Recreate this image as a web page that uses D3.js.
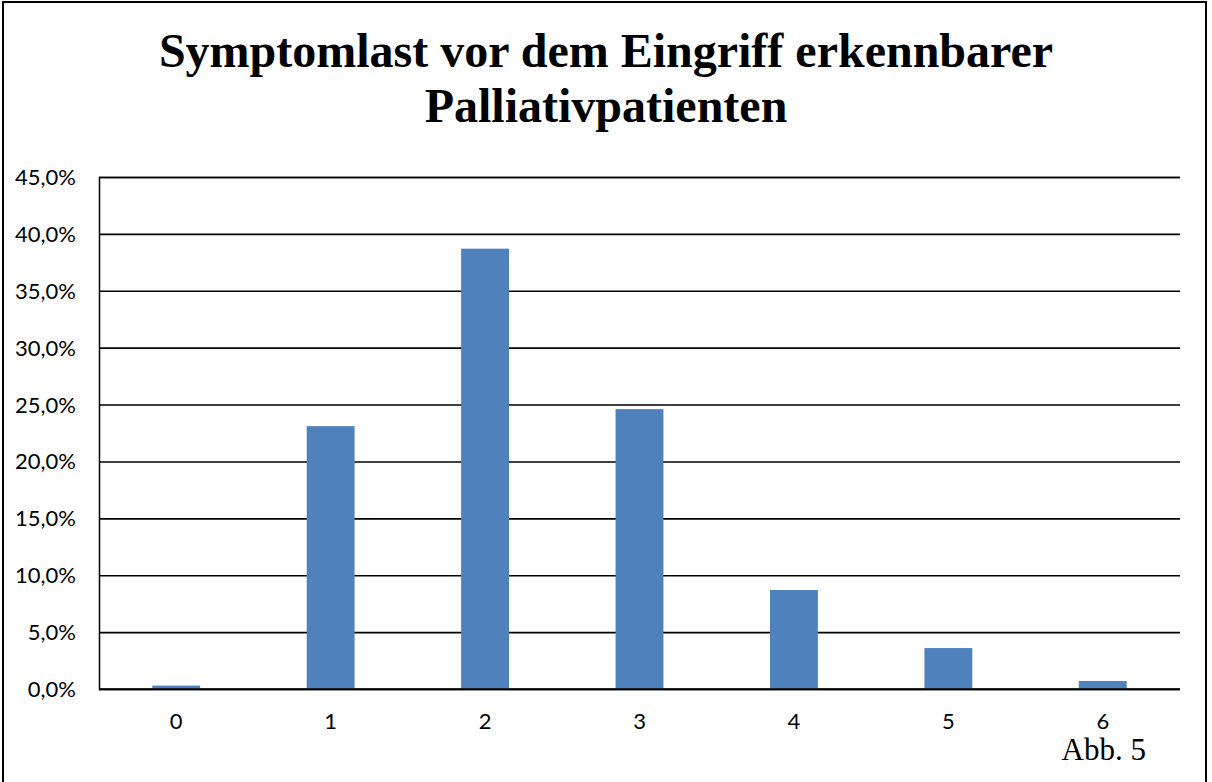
<!DOCTYPE html>
<html><head><meta charset="utf-8">
<script src="https://cdn.jsdelivr.net/npm/d3@7"></script>
<style>html,body{margin:0;padding:0;background:#fff;overflow:hidden}</style>
</head><body>
<svg id="c" width="1212" height="782"></svg>
<script>
const categories = ["0","1","2","3","4","5","6"];
const values = [0.3, 23.1, 38.7, 24.6, 8.7, 3.6, 0.7];
const yTicks = [0,5,10,15,20,25,30,35,40,45];
const titleLines = ["Symptomlast vor dem Eingriff erkennbarer","Palliativpatienten"];
const note = "Abb. 5";

const svg = d3.select("#c");
const W = 1212, H = 782;
svg.append("rect").attr("width",W).attr("height",H).attr("fill","#fff");
svg.append("rect").attr("x",3).attr("y",2).attr("width",1203).attr("height",800)
  .attr("fill","none").attr("stroke","#000").attr("stroke-width",2);

const m = {left:99, right:1180, top:177, bottom:689};
const x = d3.scaleBand().domain(categories).range([m.left,m.right]).paddingInner(0.69).paddingOuter(0.345);
const y = d3.scaleLinear().domain([0,45]).range([m.bottom,m.top]);

const tickFont = "Lato, 'Noto Sans', sans-serif";

// gridlines + y labels
const yAxis = d3.axisLeft(y).tickValues(yTicks).tickSize(-(m.right-m.left)).tickPadding(23)
  .tickFormat(d => d.toFixed(1).replace(".",",") + "%");
const gy = svg.append("g").attr("transform",`translate(${m.left},0)`).call(yAxis)
  .attr("font-family",tickFont).attr("font-size",22);
gy.select(".domain").attr("stroke","#000").attr("stroke-width",1.5);
gy.selectAll(".tick line").attr("stroke","#000").attr("stroke-width",1.6);
gy.selectAll(".tick text").attr("fill","#000").attr("dy","0.34em");

// bars
svg.append("g").selectAll("rect").data(values).join("rect")
  .attr("x",(d,i)=>x(categories[i]))
  .attr("width",x.bandwidth())
  .attr("y",d=>y(d))
  .attr("height",d=>y(0)-y(d))
  .attr("fill","#4F81BD");

// baseline over bars
svg.append("line").attr("x1",m.left).attr("x2",m.right).attr("y1",y(0)).attr("y2",y(0))
  .attr("stroke","#000").attr("stroke-width",1.6);

// x axis labels
const xAxis = d3.axisBottom(x).tickSize(0).tickPadding(24);
const gx = svg.append("g").attr("transform",`translate(0,${m.bottom})`).call(xAxis)
  .attr("font-family",tickFont).attr("font-size",22);
gx.select(".domain").remove();
gx.selectAll(".tick text").attr("fill","#000");

// title
svg.append("g").selectAll("text").data(titleLines).join("text")
  .attr("x",606).attr("y",(d,i)=>67+i*55)
  .attr("text-anchor","middle")
  .attr("font-family","'Liberation Serif','Times New Roman',serif")
  .attr("font-weight","bold").attr("font-size",48).attr("fill","#000")
  .text(d=>d);

svg.append("text").attr("x",1146).attr("y",760).attr("text-anchor","end")
  .attr("font-family","'Liberation Serif','Times New Roman',serif")
  .attr("font-size",31).attr("fill","#000").text(note);
</script>
</body></html>
